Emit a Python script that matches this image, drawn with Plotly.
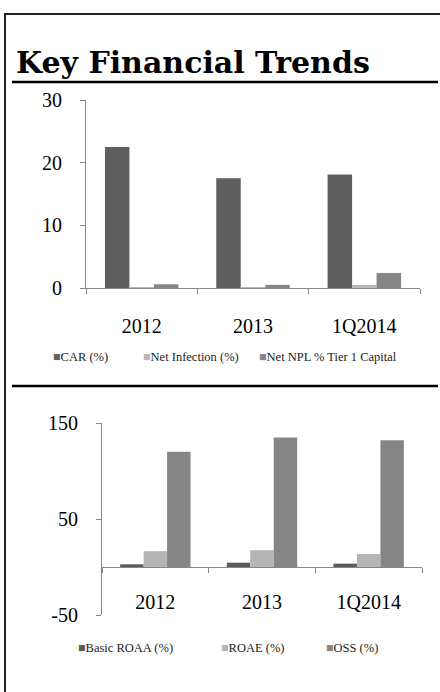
import plotly.graph_objects as go

categories = ["2012", "2013", "1Q2014"]

# Top chart series
top_names = ["CAR (%)", "Net Infection (%)", "Net NPL % Tier 1 Capital"]
car = [22.5, 17.5, 18.1]
net_infection = [0.1, 0.1, 0.5]
net_npl = [0.6, 0.5, 2.4]
top_colors = ["#5f5f5f", "#b8b8b8", "#868686"]
top_ticks = [0, 10, 20, 30]

# Bottom chart series
bottom_names = ["Basic ROAA (%)", "ROAE (%)", "OSS (%)"]
roaa = [2.8, 4.5, 3.5]
roae = [16.5, 17.5, 13.5]
oss = [120, 135, 132]
bottom_colors = ["#5a5a5a", "#b5b5b5", "#868686"]
bottom_ticks = [-50, 50, 150]

W, H = 440, 692
def px_x(p): return p / W
def px_y(p): return 1 - p / H

SERIF = "Liberation Serif"
AXIS_COLOR = "#868686"

fig = go.Figure()
for name, vals, col in zip(top_names, [car, net_infection, net_npl], top_colors):
    fig.add_trace(go.Bar(x=categories, y=vals, name=name, marker_color=col,
                         marker_line_width=0, xaxis="x", yaxis="y", showlegend=False))
for name, vals, col in zip(bottom_names, [roaa, roae, oss], bottom_colors):
    fig.add_trace(go.Bar(x=categories, y=vals, name=name, marker_color=col,
                         marker_line_width=0, xaxis="x2", yaxis="y2", showlegend=False))

# bottom chart geometry
y2_top, y2_bot = px_y(423), px_y(615)
y2_range = [-50, 150]
zero_pos = y2_bot + (0 - y2_range[0]) / (y2_range[1] - y2_range[0]) * (y2_top - y2_bot)

axis_common = dict(showline=True, linecolor=AXIS_COLOR, linewidth=1, ticks="outside",
                   tickcolor=AXIS_COLOR, ticklen=5, showgrid=False, zeroline=False,
                   automargin=False,
                   tickfont=dict(family=SERIF, size=20, color="#000"))

fig.update_layout(
    width=W, height=H, margin=dict(l=0, r=0, t=0, b=0, pad=0, autoexpand=False),
    paper_bgcolor="white", plot_bgcolor="rgba(0,0,0,0)",
    barmode="group", bargap=0.34, bargroupgap=0,
    xaxis=dict(domain=[px_x(86), px_x(420)], anchor="y", tickson="boundaries",
               ticklabelstandoff=20, **axis_common),
    yaxis=dict(domain=[px_y(288), px_y(100)], anchor="x", range=[0, 30],
               tickvals=top_ticks, ticktext=[str(v) for v in top_ticks],
               ticklabelstandoff=14, **axis_common),
    xaxis2=dict(domain=[px_x(102), px_x(422)], anchor="free", position=zero_pos,
                tickson="boundaries", ticklabelstandoff=17, **axis_common),
    yaxis2=dict(domain=[y2_bot, y2_top], anchor="x2", range=y2_range,
                tickvals=bottom_ticks, ticktext=[str(v) for v in bottom_ticks],
                ticklabelstandoff=14, **axis_common),
)

shapes = [
    # outer border
    dict(type="rect", xref="paper", yref="paper", x0=px_x(5), x1=px_x(460), y0=px_y(14), y1=px_y(720),
         line=dict(color="#222", width=2)),
    # title underline
    dict(type="line", xref="paper", yref="paper", x0=px_x(12), x1=px_x(438), y0=px_y(82), y1=px_y(82),
         line=dict(color="#000", width=2.5)),
    # divider
    dict(type="line", xref="paper", yref="paper", x0=px_x(12), x1=px_x(438), y0=px_y(386), y1=px_y(386),
         line=dict(color="#000", width=2.5)),
]
fig.update_layout(shapes=shapes)

annotations = [
    dict(text="<b>Key Financial Trends</b>", xref="paper", yref="paper", x=px_x(14), y=px_y(62),
         xanchor="left", yanchor="middle", showarrow=False,
         font=dict(family="DejaVu Serif", size=30, color="#000")),
]
def legend(names, colors, xs, ypix):
    out = []
    for n, c, xp in zip(names, colors, xs):
        out.append(dict(text=f"<span style='color:{c}'>■</span>{n}", xref="paper", yref="paper",
                        x=px_x(xp), y=px_y(ypix), xanchor="left", yanchor="middle", showarrow=False,
                        font=dict(family=SERIF, size=12.5, color="#222")))
    return out
annotations += legend(top_names, top_colors, [51, 141, 257], 357)
annotations += legend(bottom_names, bottom_colors, [76, 219, 324], 648)
fig.update_layout(annotations=annotations)

fig.write_html("out.html", config={"displayModeBar": False},
               post_script="document.body.style.margin='0';document.body.style.overflow='hidden';")
